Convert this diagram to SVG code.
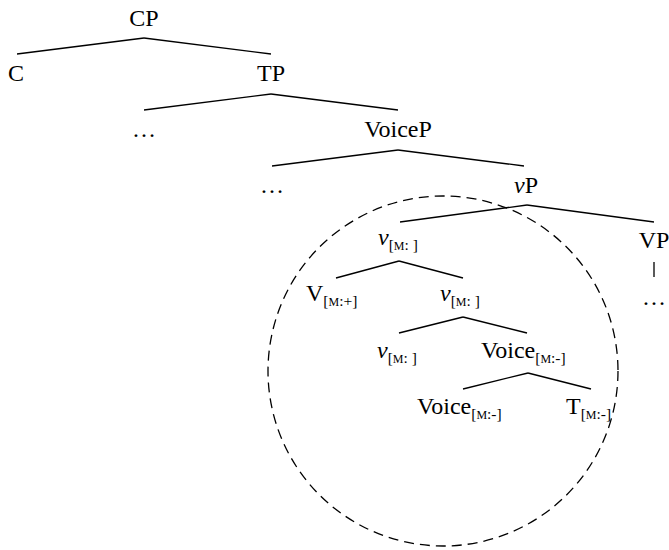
<svg xmlns="http://www.w3.org/2000/svg" width="669" height="550" viewBox="0 0 669 550">
<style>
text{font-family:"Liberation Serif","Times New Roman",serif;font-size:24px;fill:#000}
.m{text-anchor:middle}
.it{font-style:italic}
.sub{font-size:15.5px}
.sc{font-size:12px}
.br line{stroke:#000;stroke-width:1.3;fill:none}
.circ{stroke:#000;stroke-width:1.3;fill:none;stroke-dasharray:10 6}
</style>
<rect width="669" height="550" fill="#fff"/>
<g id="connectors" class="br">
<line x1="144" y1="38" x2="17" y2="54"/><line x1="144" y1="38" x2="271" y2="54"/>
<line x1="271" y1="94" x2="144" y2="110"/><line x1="271" y1="94" x2="398" y2="110"/>
<line x1="398" y1="150" x2="272" y2="166"/><line x1="398" y1="150" x2="524" y2="166"/>
<line x1="527" y1="205" x2="400" y2="222"/><line x1="527" y1="205" x2="654" y2="222"/>
<line x1="654" y1="262" x2="654" y2="277"/>
<line x1="399" y1="261" x2="336" y2="278"/><line x1="399" y1="261" x2="463" y2="278"/>
<line x1="463" y1="317" x2="399" y2="333"/><line x1="463" y1="317" x2="527" y2="333"/>
<line x1="528" y1="373" x2="463" y2="389"/><line x1="528" y1="373" x2="591" y2="389"/>
</g>
<circle id="domain" class="circ" cx="443" cy="371" r="175"/>
<g id="CP"><text class="m" x="144" y="26">CP</text></g>
<g id="C"><text class="m" x="16" y="81">C</text></g>
<g id="TP"><text class="m" x="271" y="81">TP</text></g>
<g id="dots1"><text class="m" x="144" y="137">…</text></g>
<g id="VoiceP"><text class="m" x="398" y="137">VoiceP</text></g>
<g id="dots2"><text class="m" x="272" y="193">…</text></g>
<g id="vP"><text class="m" x="526" y="193"><tspan class="it">ν</tspan>P</text></g>
<g id="VP"><text class="m" x="654" y="248">VP</text></g>
<g id="dots3"><text class="m" x="654" y="305">…</text></g>
<g id="v1"><text x="378" y="245"><tspan class="it">ν</tspan><tspan class="sub" dy="5">[<tspan class="sc">M</tspan>: ]</tspan></text></g>
<g id="V"><text x="306" y="301">V<tspan class="sub" dy="5">[<tspan class="sc">M</tspan>:+]</tspan></text></g>
<g id="v2"><text x="440" y="301"><tspan class="it">ν</tspan><tspan class="sub" dy="5">[<tspan class="sc">M</tspan>: ]</tspan></text></g>
<g id="v3"><text x="377" y="358"><tspan class="it">ν</tspan><tspan class="sub" dy="5">[<tspan class="sc">M</tspan>: ]</tspan></text></g>
<g id="Voice1"><text x="481" y="358">Voice<tspan class="sub" dy="5">[<tspan class="sc">M</tspan>:-]</tspan></text></g>
<g id="Voice2"><text x="417" y="414">Voice<tspan class="sub" dy="5">[<tspan class="sc">M</tspan>:-]</tspan></text></g>
<g id="T"><text x="566" y="414">T<tspan class="sub" dy="5">[<tspan class="sc">M</tspan>:-]</tspan></text></g>
</svg>
